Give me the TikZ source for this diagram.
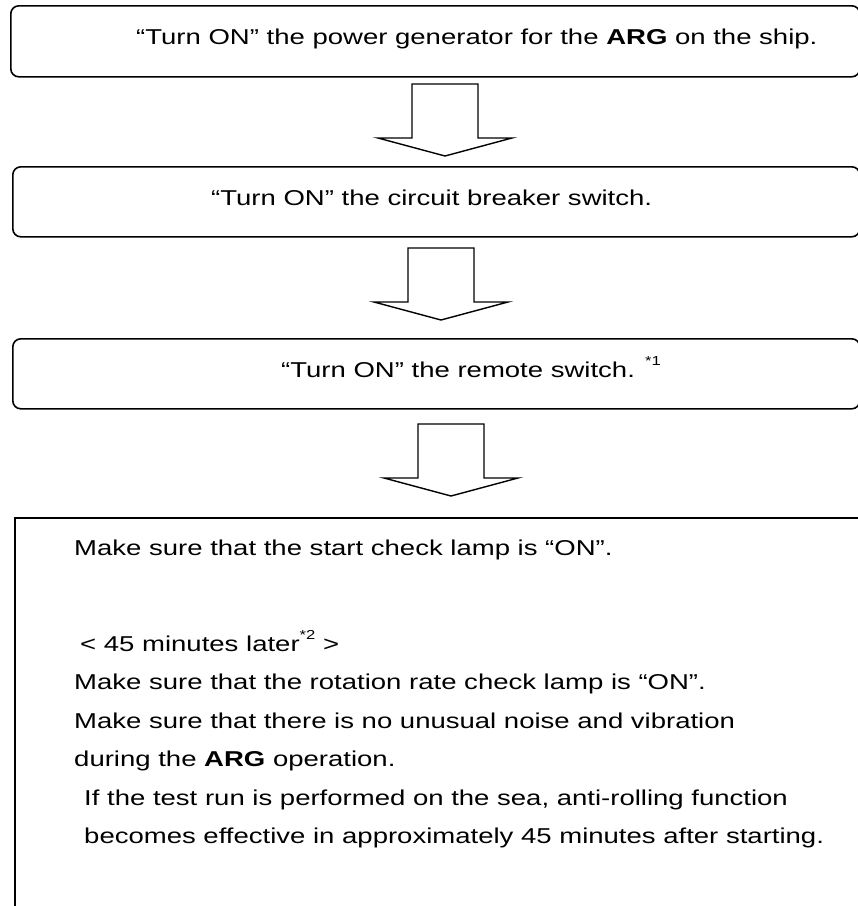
\documentclass[tikz,border=0pt]{standalone}
\usepackage{fontspec}
\setmainfont{Liberation Sans}[FakeStretch=1.28]
\newcommand{\supmark}[1]{\raisebox{12pt}{\fontsize{13}{13}\selectfont #1}}
\begin{document}
\begin{tikzpicture}[x=1pt,y=-1pt,
  box/.style={draw, line width=1.6pt, rounded corners=8pt, inner sep=0pt, anchor=north west},
  plainbox/.style={draw, line width=1.6pt, inner sep=0pt, anchor=north west},
  txt/.style={anchor=base west, inner sep=0pt, font=\fontsize{21.5}{26}\selectfont},
  blk/.style={draw, line width=1.4pt, fill=white, line join=miter},
  blockarrow/.pic={\draw[blk] (-33,0) -- (33,0) -- (33,54) -- (67,54) -- (0,72) -- (-67,54) -- (-33,54) -- cycle;}]
\useasboundingbox (0,0) rectangle (858,906);
% boxes
\node[box, minimum width=849pt, minimum height=71pt] (b1) at (10,5) {};
\node[box, minimum width=847pt, minimum height=70pt] (b2) at (12,166) {};
\node[box, minimum width=847pt, minimum height=70pt] (b3) at (12,338) {};
\node[plainbox, minimum width=860pt, minimum height=420pt] (b4) at (14,517) {};
% block arrows
\coordinate (a1) at (445,84);
\coordinate (a2) at (441,248);
\coordinate (a3) at (451,424);
\pic at (a1) {blockarrow};
\pic at (a2) {blockarrow};
\pic at (a3) {blockarrow};
% texts
\node[txt] (t1) at (136,44) {“Turn ON” the power generator for the \textbf{ARG} on the ship.};
\node[txt] (t2) at (211,205) {“Turn ON” the circuit breaker switch.};
\node[txt] (t3) at (281,377) {“Turn ON” the remote switch. \supmark{*1}};
\node[txt] (l1) at (74,555) {Make sure that the start check lamp is “ON”.};
\node[txt] (l2) at (80,651) {< 45 minutes later\supmark{*2} >};
\node[txt] (l3) at (74,689) {Make sure that the rotation rate check lamp is “ON”.};
\node[txt] (l4) at (74,728) {Make sure that there is no unusual noise and vibration};
\node[txt] (l5) at (74,766) {during the \textbf{ARG} operation.};
\node[txt] (l6) at (84,805) {If the test run is performed on the sea, anti-rolling function};
\node[txt] (l7) at (84,843) {becomes effective in approximately 45 minutes after starting.};
\end{tikzpicture}
\end{document}
